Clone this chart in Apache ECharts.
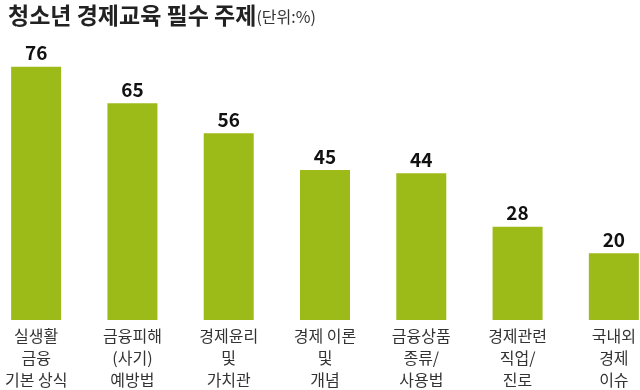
<!DOCTYPE html>
<html><head><meta charset="utf-8">
<script src="https://cdn.jsdelivr.net/npm/echarts@6/dist/echarts.min.js"></script>
<style>html,body{margin:0;padding:0;background:#fff}#c{width:640px;height:390px}</style>
</head><body><div id="c"></div>
<script>
const categories = ["실생활\n금융\n기본 상식", "금융피해\n(사기)\n예방법", "경제윤리\n및\n가치관", "경제 이론\n및\n개념", "금융상품\n종류/\n사용법", "경제관련\n직업/\n진로", "국내외\n경제\n이슈"];
const values = [76, 65, 56, 45, 44, 28, 20];
const titleMain = "청소년 경제교육 필수 주제";
const titleUnit = "(단위:%)";
const FONT = "'Noto Sans CJK KR', 'Noto Sans', sans-serif";
const chart = echarts.init(document.getElementById('c'), null, {renderer: 'canvas'});
chart.setOption({
  backgroundColor: '#fff',
  animation: false,
  title: {
    text: '{a|' + titleMain + '}{b|' + titleUnit + '}',
    left: 3, top: -1,
    textStyle: {
      rich: {
        a: {fontFamily: FONT, fontSize: 23, fontWeight: 'bold', color: '#222'},
        b: {fontFamily: FONT, fontSize: 16, fontWeight: 'normal', color: '#333', padding: [3, 0, 0, 0]}
      }
    }
  },
  grid: {left: -12, width: 674, top: 0, height: 320, containLabel: false, outerBoundsMode: 'none'},
  xAxis: {
    type: 'category', data: categories,
    axisLine: {show: false}, axisTick: {show: false},
    axisLabel: {interval: 0, fontFamily: FONT, fontSize: 16, lineHeight: 22, color: '#333', margin: 5}
  },
  yAxis: {type: 'value', min: 0, max: 96, show: false, splitLine: {show: false}},
  series: [{
    type: 'bar', data: values, barWidth: 50,
    itemStyle: {color: '#9cbb18'},
    label: {show: true, position: 'top', distance: 4, fontFamily: FONT, fontSize: 19, fontWeight: 'bold', color: '#111'}
  }]
});
</script></body></html>
